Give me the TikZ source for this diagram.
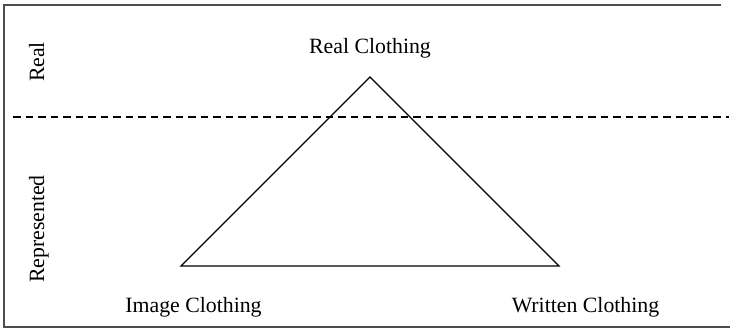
\documentclass[tikz,border=0pt]{standalone}
\usepackage{fontspec}
\setmainfont{Liberation Serif}
\begin{document}
\begin{tikzpicture}[x=1pt,y=-1pt,
  lbl/.style={inner sep=0pt,font=\fontsize{21.8}{24}\selectfont,anchor=base},
  frame/.style={draw=black!70,line width=1.6pt},
  tri/.style={draw=black,line width=1.2pt,line join=miter},
  divider/.style={draw=black,line width=1.2pt,dash pattern=on 7.5pt off 5pt}]
\useasboundingbox (0,0) rectangle (730,329);
\coordinate (ftr) at (721,5);
\coordinate (ftl) at (4,5);
\coordinate (fbl) at (4,327);
\coordinate (fbr) at (730,327);
\draw[frame] (ftr) -- (ftl) -- (fbl) -- (fbr);
\coordinate (dl) at (13,117);
\coordinate (dr) at (729,117);
\draw[divider] (dl) -- (dr);
\coordinate (top) at (370,77);
\coordinate (bl) at (181,266);
\coordinate (br) at (559,266);
\draw[tri] (top) -- (bl) -- (br) -- cycle;
\node[lbl] (rc) at (370,54) {Real Clothing};
\node[lbl] (ic) at (193.5,312) {Image Clothing};
\node[lbl] (wc) at (585.5,312) {Written Clothing};
\node[lbl,rotate=90] (real) at (44,62) {Real};
\node[lbl,rotate=90] (rep) at (44,229) {Represented};
\end{tikzpicture}
\end{document}
